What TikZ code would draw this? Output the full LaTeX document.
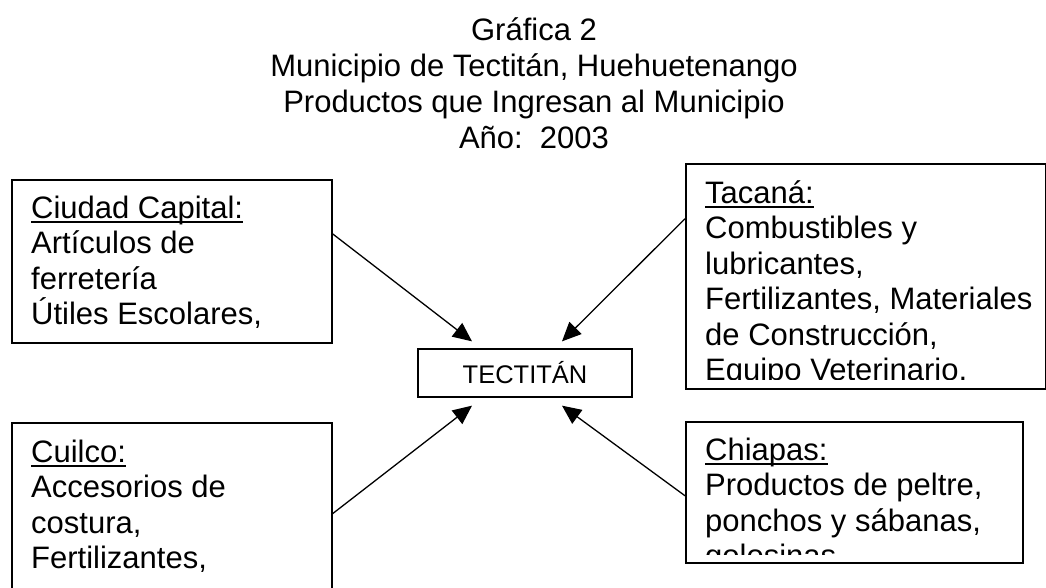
\documentclass[tikz,border=0pt]{standalone}
\usepackage{fontspec}
\setmainfont{Liberation Sans}
\usetikzlibrary{arrows.meta}
\newcommand{\subraya}[1]{\setbox0\hbox{#1}\rlap{\rule[-5pt]{\wd0}{2pt}}\box0}

\tikzset{
  caja/.style={draw, line width=1.5pt, anchor=north west, inner sep=0pt},
  texto/.style={anchor=base west, align=left, inner sep=0pt, font=\fontsize{31}{35.5}\selectfont},
  flecha/.style={line width=1.3pt, -{Triangle[length=19pt, width=17pt]}}
}

\begin{document}
\begin{tikzpicture}[x=1pt, y=-1pt]
            \useasboundingbox (0,0) rectangle (1046,587);
            \node [align=center, anchor=base, inner sep=0pt, font=\fontsize{31}{36}\selectfont] (titulo) at (534,148) {Gráfica 2\\ Municipio de Tectitán, Huehuetenango\\ Productos que Ingresan al Municipio\\ Año:\ \ 2003};
            \node [caja, minimum width=320pt, minimum height=163pt] (ciudad) at (11,179) {};
            \node [caja, minimum width=320pt, minimum height=200pt] (cuilco) at (11,422) {};
            \node [caja, minimum width=360pt, minimum height=225pt] (tacana) at (685,163) {};
            \node [caja, minimum width=337pt, minimum height=141pt] (chiapas) at (685,421) {};
            \node [caja, line width=1.3pt, anchor=center, minimum width=214pt, minimum height=48pt, font=\fontsize{25.5}{30}\selectfont] (tectitan) at (525,373) {TECTITÁN};
            \node [texto] (ciudadTxt) at (31,324.5) {\subraya{Ciudad Capital:}\\ Artículos de\\ ferretería\\ Útiles Escolares,};
            \node [texto] (cuilcoTxt) at (31,568.5) {\subraya{Cuilco:}\\ Accesorios de\\ costura,\\ Fertilizantes,};
            \begin{scope}
            \clip (686,164) rectangle (1044,379);
            \node [texto] (tacanaTxt) at (705,380.5) {\subraya{Tacaná:}\\ Combustibles y\\ lubricantes,\\ Fertilizantes, Materiales\\ de Construcción,\\ Equipo Veterinario,};
            \end{scope}
            \begin{scope}
            \clip (686,422) rectangle (1021,554);
            \node [texto] (chiapasTxt) at (705,566.5) {\subraya{Chiapas:}\\ Productos de peltre,\\ ponchos y sábanas,\\ golosinas};
            \end{scope}
            \coordinate (llegaNO) at ([xshift=-53pt, yshift=7pt]tectitan.north);
            \coordinate (llegaNE) at ([xshift=37pt, yshift=7pt]tectitan.north);
            \coordinate (llegaSO) at ([xshift=-53pt, yshift=-8pt]tectitan.south);
            \coordinate (llegaSE) at ([xshift=37pt, yshift=-8pt]tectitan.south);
            \draw [flecha] ([yshift=27.5pt]ciudad.east) -- (llegaNO);
            \draw [flecha] ([yshift=57.5pt]tacana.west) -- (llegaNE);
            \draw [flecha] ([yshift=9pt]cuilco.east) -- (llegaSO);
            \draw [flecha] ([yshift=-3.5pt]chiapas.west) -- (llegaSE);
        \end{tikzpicture}
\end{document}
